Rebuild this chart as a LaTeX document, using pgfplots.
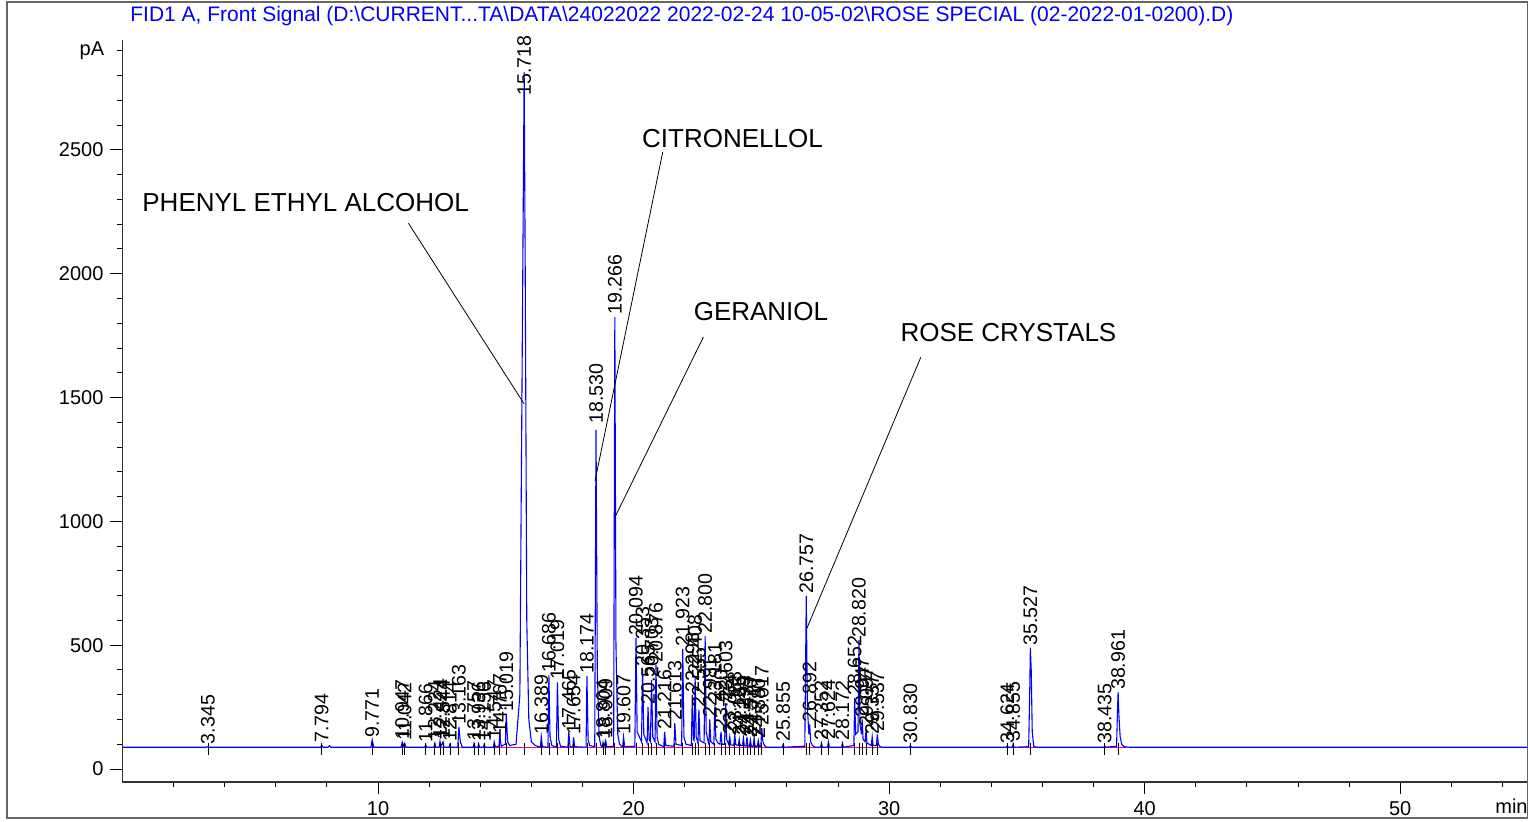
\documentclass[border=0pt]{standalone}
\usepackage{pgfplots}
\pgfplotsset{compat=1.18}
\usepackage{pgfplotstable}
\usepackage{fontspec}
\setmainfont{Liberation Sans}

\pgfplotstableread{
t y lab
3.345 91 3.345
7.794 96 7.794
9.771 118 9.771
10.947 108 10.947
11.042 104 11.042
11.866 98 11.866
12.224 104 12.224
12.424 112 12.424
12.544 110 12.544
12.814 100 12.814
13.163 170 13.163
13.757 104 13.757
13.936 102 13.936
14.156 100 14.156
14.547 110 14.547
14.767 135 14.767
15.019 222 15.019
15.718 2710 15.718
16.389 130 16.389
16.686 380 16.686
17.019 350 17.019
17.465 150 17.465
17.654 128 17.654
18.174 375 18.174
18.530 1385 18.530
18.804 108 18.804
18.909 115 18.909
19.266 1825 19.266
19.607 130 19.607
20.094 530 20.094
20.353 405 20.353
20.565 250 20.565
20.703 360 20.703
20.876 420 20.876
21.216 150 21.216
21.613 185 21.613
21.923 485 21.923
22.298 300 22.298
22.408 370 22.408
22.555 240 22.555
22.800 537 22.800
22.981 200 22.981
23.181 258 23.181
23.420 150 23.420
23.603 265 23.603
23.764 130 23.764
23.958 140 23.958
24.135 120 24.135
24.299 125 24.299
24.437 130 24.437
24.570 118 24.570
24.717 125 24.717
24.880 115 24.880
25.017 165 25.017
25.855 100 25.855
26.757 699 26.757
26.892 180 26.892
27.352 105 27.352
27.624 110 27.624
28.172 105 28.172
28.652 287 28.652
28.820 520 28.820
28.947 200 28.947
29.097 160 29.097
29.337 130 29.337
29.537 140 29.537
30.830 95 30.830
34.624 95 34.624
34.855 102 34.855
35.527 490 35.527
38.435 93 38.435
38.961 310 38.961
}\peaks

\pgfplotstableread{
x y
0.02 88
3.30 88
3.345 91
3.40 88
7.75 88
7.794 96
7.85 88
8.05 88
8.10 94
8.15 88
9.72 88
9.771 118
9.83 88
10.90 88
10.947 108
10.99 92
11.042 104
11.10 88
11.83 88
11.866 98
11.90 88
12.19 88
12.224 104
12.26 88
12.39 88
12.424 112
12.46 90
12.544 110
12.58 88
12.78 88
12.814 100
12.85 88
13.12 88
13.163 170
13.22 110
13.30 88
13.72 88
13.757 104
13.80 88
13.90 88
13.936 102
13.97 88
14.12 88
14.156 100
14.19 88
14.51 88
14.547 110
14.59 90
14.73 92
14.767 135
14.82 92
14.98 100
15.019 222
15.07 110
15.15 95
15.40 100
15.55 300
15.65 1800
15.718 2815
15.76 2000
15.82 600
15.90 200
16.00 110
16.15 95
16.35 88
16.389 130
16.43 90
16.65 88
16.686 380
16.73 130
16.80 95
16.98 88
17.019 350
17.07 120
17.14 92
17.43 88
17.465 150
17.51 92
17.62 88
17.654 128
17.69 90
18.14 88
18.174 375
18.22 120
18.28 95
18.48 90
18.530 1370
18.58 400
18.65 130
18.72 95
18.77 88
18.804 108
18.84 90
18.909 115
18.95 90
19.22 92
19.266 1825
19.31 500
19.38 140
19.45 100
19.57 88
19.607 130
19.65 90
20.05 92
20.094 530
20.14 150
20.31 110
20.353 405
20.40 140
20.53 105
20.565 250
20.61 120
20.66 110
20.703 360
20.75 130
20.84 110
20.876 420
20.92 130
20.98 100
21.18 90
21.216 150
21.26 95
21.58 92
21.613 185
21.66 100
21.88 95
21.923 485
21.97 130
22.05 100
22.26 95
22.298 300
22.34 120
22.37 115
22.408 370
22.45 130
22.52 105
22.555 240
22.60 115
22.76 105
22.800 537
22.84 150
22.92 110
22.95 100
22.981 200
23.02 110
23.14 100
23.181 258
23.22 120
23.30 105
23.38 100
23.420 150
23.46 100
23.56 100
23.603 265
23.64 120
23.72 100
23.764 130
23.80 98
23.92 95
23.958 140
24.00 98
24.10 95
24.135 120
24.17 95
24.26 95
24.299 125
24.33 95
24.40 92
24.437 130
24.47 93
24.53 92
24.570 118
24.61 92
24.68 92
24.717 125
24.75 92
24.84 92
24.880 115
24.92 92
24.98 92
25.017 165
25.06 110
25.12 95
25.20 88
25.82 88
25.855 100
25.89 88
26.70 92
26.757 699
26.80 250
26.86 140
26.892 180
26.93 110
27.00 95
27.10 88
27.32 88
27.352 105
27.39 88
27.59 88
27.624 110
27.66 88
28.14 88
28.172 105
28.21 88
28.62 95
28.652 287
28.69 140
28.78 150
28.820 520
28.86 180
28.92 140
28.947 200
28.98 120
29.06 110
29.097 160
29.13 105
29.30 95
29.337 130
29.37 95
29.50 95
29.537 140
29.58 100
29.65 90
29.75 88
30.79 88
30.830 95
30.87 88
34.59 88
34.624 95
34.66 88
34.82 88
34.855 102
34.89 88
35.46 90
35.50 300
35.527 490
35.56 400
35.60 150
35.66 92
35.75 88
38.40 88
38.435 93
38.47 88
38.90 92
38.94 250
38.961 310
38.99 220
39.04 130
39.10 100
39.20 90
39.40 88
55.00 88
}\trace

\begin{document}
\begin{tikzpicture}
\begin{axis}[
  at={(0pt,0pt)}, anchor=south west,
  scale only axis, width=702.75pt, height=371pt,
  xmin=0, xmax=55, ymin=-52.5, ymax=2944,
  axis lines*=left,
  axis line style={black!80, line width=0.6pt},
  xtick={10,20,30,40,50}, ytick={0,500,1000,1500,2000,2500},
  minor xtick={2,4,6,8,12,14,16,18,22,24,26,28,32,34,36,38,42,44,46,48,52,54},
  minor ytick={100,200,300,400,600,700,800,900,1100,1200,1300,1400,1600,1700,1800,1900,2100,2200,2300,2400,2600,2700,2800,2900},
  tick align=outside, major tick length=6pt, minor tick length=2.5pt,
  every tick/.style={black, line width=0.5pt},
  ticklabel style={font=\fontsize{10}{12}\selectfont},
  /pgf/number format/assume math mode=true,
  /pgf/number format/1000 sep={},
  clip=false,
]
\addplot[magenta, line width=0.5pt] coordinates {(9.7,86) (39.3,86)};
\addplot[blue, line width=0.55pt, mark=none] table[x=x, y=y]{\trace};
\addplot[only marks, mark=|, mark size=3pt, mark options={black, line width=0.4pt}] table[x=t, y expr=81]{\peaks};
\addplot[draw=none, mark=none, nodes near coords, point meta=explicit symbolic,
  nodes near coords style={rotate=90, anchor=west, inner sep=1pt, black, font=\fontsize{9.8}{11}\selectfont}]
  table[x=t, y=y, meta=lab]{\peaks};

\draw[black, line width=0.4pt] (axis cs:11.19,2204) -- (axis cs:15.72,1474);
\draw[black, line width=0.4pt] (axis cs:21.14,2491) -- (axis cs:18.49,1163);
\draw[black, line width=0.4pt] (axis cs:22.73,1744) -- (axis cs:19.28,1019);
\draw[black, line width=0.4pt] (axis cs:31.24,1663) -- (axis cs:26.78,568);
\node[anchor=base west, inner sep=0, font=\fontsize{13}{15}\selectfont] at (axis cs:0.763,2250) {PHENYL ETHYL ALCOHOL};
\node[anchor=base west, inner sep=0, font=\fontsize{13}{15}\selectfont] at (axis cs:20.32,2508) {CITRONELLOL};
\node[anchor=base west, inner sep=0, font=\fontsize{13}{15}\selectfont] at (axis cs:22.34,1813) {GERANIOL};
\node[anchor=base west, inner sep=0, font=\fontsize{13}{15}\selectfont] at (axis cs:30.43,1725) {ROSE CRYSTALS};
\node[anchor=east, inner sep=0, font=\fontsize{10}{12}\selectfont] at (axis cs:-0.7,2900) {pA};
\node[anchor=base east, inner sep=0, font=\fontsize{10}{12}\selectfont] at (axis cs:55,-180) {min};
\end{axis}
\node[anchor=base west, inner sep=0, blue, font=\fontsize{10.5}{12}\selectfont] at (3.75pt,380pt) {FID1 A, Front Signal (D:\textbackslash CURRENT...TA\textbackslash DATA\textbackslash 24022022 2022-02-24 10-05-02\textbackslash ROSE SPECIAL (02-2022-01-0200).D)};
\pgfresetboundingbox
\path[use as bounding box] (-61.25pt,-19.5pt) rectangle (702.75pt,391pt);
\draw[gray!80!black, line width=0.7pt] (-57.75pt,-18pt) rectangle (702.4pt,390pt);
\end{tikzpicture}
\end{document}
